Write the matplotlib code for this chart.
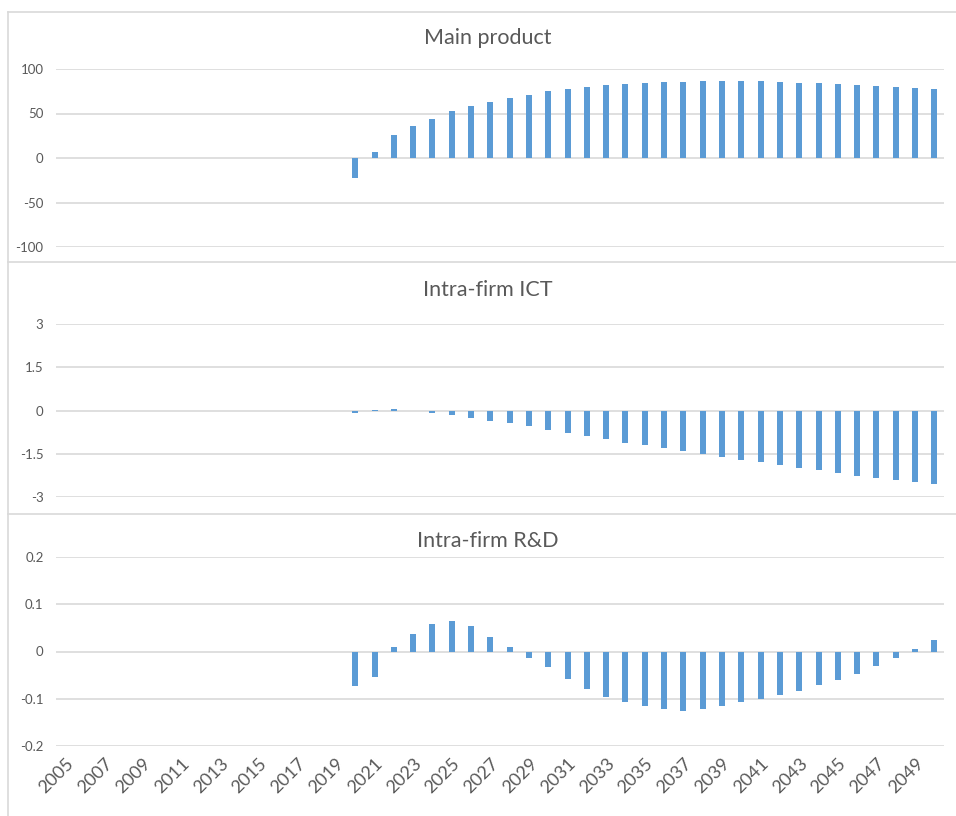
import matplotlib
matplotlib.use("Agg")
import matplotlib.pyplot as plt
from matplotlib.lines import Line2D

years = list(range(2005, 2051))

# 2005-2019 are zero (or nearly) in all three series
main_product = [0, 0, 0, 0, 0, 0, 0, 0, 0, 0, 0, 0, 0, 0, 0,
                -23, 6.5, 25.5, 36, 44, 52.5, 58, 63, 67.5, 71,
                75.5, 77.5, 79.5, 81.5, 83, 84.5, 85.3, 85.3, 86, 86,
                86, 86, 85.3, 84.6, 84.6, 83, 82.3, 81.2, 80, 79, 77.4]

intra_ict = [0, -0.025, -0.025, -0.025, 0, 0, -0.025, -0.025, -0.025, -0.025,
             -0.025, -0.025, 0, -0.025, -0.025,
             -0.07, 0.02, 0.035, -0.02, -0.09, -0.17, -0.25, -0.36, -0.45, -0.55,
             -0.66, -0.77, -0.88, -0.99, -1.11, -1.19, -1.29, -1.41, -1.5, -1.6,
             -1.7, -1.8, -1.89, -1.98, -2.08, -2.17, -2.26, -2.33, -2.41, -2.48, -2.56]

intra_rd = [0, 0, 0, 0, 0, 0, 0, 0, 0, 0, 0, 0, 0, 0, 0,
            -0.072, -0.055, 0.0085, 0.038, 0.058, 0.065, 0.055, 0.031, 0.0085, -0.013,
            -0.033, -0.058, -0.079, -0.097, -0.107, -0.115, -0.122, -0.125, -0.121, -0.115,
            -0.107, -0.100, -0.093, -0.083, -0.071, -0.060, -0.047, -0.031, -0.014, 0.006, 0.025]

titles = ["Main product", "Intra-firm ICT", "Intra-firm R&D"]
yticks = [[-100, -50, 0, 50, 100], [-3, -1.5, 0, 1.5, 3], [-0.2, -0.1, 0, 0.1, 0.2]]
ytick_labels = [["-100", "-50", "0", "50", "100"],
                ["-3", "-1.5", "0", "1.5", "3"],
                ["-0.2", "-0.1", "0", "0.1", "0.2"]]

W, H = 956, 816
bar_color = "#5B9BD5"
grid_color = "#D9D9D9"
text_color = "#595959"
plt.rcParams['font.family'] = ['Lato', 'DejaVu Sans']

fig = plt.figure(figsize=(W / 100, H / 100), dpi=100)

# pixel boxes of the plot areas: (top, bottom), and title y
panels = [(69, 247, 38), (324, 497, 290), (557, 746, 541)]
left_px, right_px = 56, 944
series = [main_product, intra_ict, intra_rd]

for i, (top, bottom, ty) in enumerate(panels):
    ax = fig.add_axes([left_px / W, (H - bottom) / H, (right_px - left_px) / W, (bottom - top) / H])
    ax.bar(range(len(years)), series[i], width=0.31, color=bar_color, zorder=3)
    ax.set_xlim(-0.5, len(years) - 0.5)
    ax.set_ylim(yticks[i][0], yticks[i][-1])
    ax.set_yticks(yticks[i])
    ax.set_yticklabels(ytick_labels[i])
    ax.grid(axis='y', color=grid_color, linewidth=1.2, zorder=0)
    for s in ax.spines.values():
        s.set_visible(False)
    ax.tick_params(axis='y', length=0, pad=9, labelsize=9.5, labelcolor=text_color)
    if i == 2:
        ax.set_xticks(range(0, len(years), 2))
        ax.set_xticklabels([str(y) for y in years[::2]], rotation=45, ha='right', va='top',
                           rotation_mode='anchor')
        ax.tick_params(axis='x', length=0, pad=7, labelsize=13, labelcolor=text_color)
    else:
        ax.set_xticks([])
    fig.text(488 / W, 1 - ty / H, titles[i], ha='center', va='center', fontsize=15.5, color=text_color)

# chart borders
for y in [12, 262, 514]:
    fig.add_artist(Line2D([8 / W, 1], [1 - y / H, 1 - y / H], color=grid_color, linewidth=1.2))
fig.add_artist(Line2D([8 / W, 8 / W], [0, 1 - 12 / H], color=grid_color, linewidth=1.2))

fig.savefig("out.png", dpi=100)
